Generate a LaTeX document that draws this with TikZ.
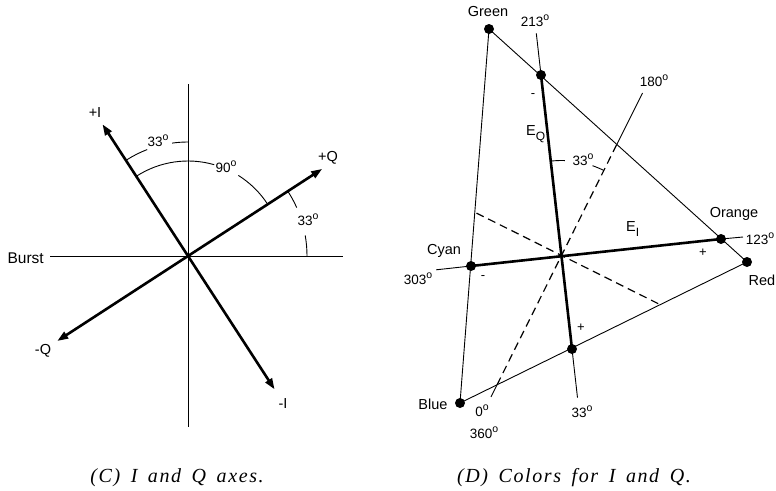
\documentclass[tikz,border=0pt]{standalone}
\usepackage{fontspec}
\setmainfont{Liberation Sans}
\newfontfamily\capfont[LetterSpace=8,WordSpace=1.6]{Liberation Serif}
\usetikzlibrary{arrows.meta}
\newcommand{\dgo}{\raisebox{0.8ex}{\fontsize{10.5}{11}\selectfont o}}
\newcommand{\subx}[1]{\raisebox{-0.6ex}{\fontsize{12}{13}\selectfont #1}}
\begin{document}
\begin{tikzpicture}[x=1pt,y=-1pt,
  thinln/.style={line width=0.9pt},
  thickln/.style={line width=2.6pt},
  arr/.style={thickln,-{Triangle[length=11pt,width=7.5pt]}},
  dsh/.style={line width=1.2pt,dash pattern=on 8pt off 5pt},
  dot/.style={circle,fill,inner sep=0pt,minimum size=10pt},
  lbl/.style={font=\fontsize{14.5}{16}\selectfont,inner sep=0pt},
  num/.style={font=\fontsize{13.5}{15}\selectfont,inner sep=0pt},
  sgn/.style={font=\fontsize{13}{14}\selectfont,inner sep=0pt},
  captxt/.style={font=\capfont\itshape\fontsize{20}{22}\selectfont,inner sep=0pt,anchor=base}]
\useasboundingbox (0,0) rectangle (776,490);
% ---------------- left diagram (C) ----------------
\coordinate (O) at (188,256);
\coordinate (vt) at (188,84);
\coordinate (vb) at (188,427);
\coordinate (hl) at (50,256);
\coordinate (hr) at (343,256);
\coordinate (pI) at (102.5,124.3);
\coordinate (mI) at (274.6,389.4);
\coordinate (pQ) at (322.2,168.9);
\coordinate (mQ) at (57.2,341);
\draw[thinln] (vt) -- (vb);
\draw[thinln] (hl) -- (hr);
\draw[arr] (O) -- (pI);
\draw[arr] (O) -- (mI);
\draw[arr] (O) -- (pQ);
\draw[arr] (O) -- (mQ);
\draw[thinln] (O) ++(90:114pt) arc[start angle=90,end angle=98,radius=114pt];
\draw[thinln] (O) ++(111:114pt) arc[start angle=111,end angle=123,radius=114pt];
\draw[thinln] (O) ++(123:95pt) arc[start angle=123,end angle=74,radius=95pt];
\draw[thinln] (O) ++(58:95pt) arc[start angle=58,end angle=33,radius=95pt];
\draw[thinln] (O) ++(33:119pt) arc[start angle=33,end angle=24,radius=119pt];
\draw[thinln] (O) ++(10:119pt) arc[start angle=10,end angle=0,radius=119pt];
\node[lbl,anchor=east,font=\fontsize{15.5}{17}\selectfont] (burst) at (44,258) {Burst};
\node[lbl] (lpI) at (95,113) {+I};
\node[lbl] (lpQ) at (328,158) {+Q};
\node[lbl] (lmQ) at (43,351) {-Q};
\node[lbl] (lmI) at (283,404) {-I};
\node[num] (a33a) at (158,141) {33\dgo};
\node[num] (a90) at (226,167) {90\dgo};
\node[num] (a33b) at (308,220) {33\dgo};
% ---------------- right diagram (D) ----------------
\coordinate (C) at (561.5,255.5);
\node[dot] (green) at (489,29) {};
\node[dot] (red) at (747,262) {};
\node[dot] (blue) at (460,403) {};
\node[dot] (orange) at (721,239) {};
\node[dot] (cyan) at (471,266) {};
\node[dot] (q213) at (541,75) {};
\node[dot] (q33) at (572,349) {};
\coordinate (e213) at (536.3,33.3);
\coordinate (e33) at (577.5,397.7);
\coordinate (e303) at (436.2,269.8);
\coordinate (e123) at (743,237);
\coordinate (x180) at (616.8,144.4);
\coordinate (e180) at (642.5,93);
\coordinate (x0) at (497.1,384.7);
\coordinate (e0) at (491,396.9);
\coordinate (pl) at (476.5,213.1);
\coordinate (pr) at (660.1,304.6);
\draw[thinln] (green.center) -- (red.center) -- (blue.center) -- cycle;
\draw[thickln] (q213.center) -- (q33.center);
\draw[thickln] (cyan.center) -- (orange.center);
\draw[thinln] (e213) -- (q213.center);
\draw[thinln] (q33.center) -- (e33);
\draw[thinln] (e303) -- (cyan.center);
\draw[thinln] (orange.center) -- (e123);
\draw[dsh] (x0) -- (C) -- (x180);
\draw[thinln] (x180) -- (e180);
\draw[thinln] (x0) -- (e0);
\draw[dsh] (pl) -- (pr);
\draw[thinln] (C) ++(96.5:95pt) arc[start angle=96.5,end angle=88,radius=95pt];
\draw[thinln] (C) ++(71:95pt) arc[start angle=71,end angle=63.5,radius=95pt];
\node[lbl] (lgreen) at (488,12) {Green};
\node[lbl] (lorange) at (734,214) {Orange};
\node[lbl] (lred) at (762,280) {Red};
\node[lbl] (lcyan) at (444,251) {Cyan};
\node[lbl] (lblue) at (433,404) {Blue};
\node[num] (l213) at (535,21) {213\dgo};
\node[num] (l180) at (654,81) {180\dgo};
\node[num] (l123) at (760,239) {123\dgo};
\node[num] (l303) at (418,279) {303\dgo};
\node[num] (l0) at (482,411) {0\dgo};
\node[num] (l360) at (484,433) {360\dgo};
\node[num] (l33c) at (582,412) {33\dgo};
\node[num] (l33d) at (583,160) {33\dgo};
\node[lbl,anchor=west] (leq) at (526,134) {E\subx{Q}};
\node[lbl,anchor=west] (lei) at (626,229) {E\subx{I}};
\node[sgn] (m1) at (533,96) {-};
\node[sgn] (m2) at (483,278) {-};
\node[sgn] (p1) at (703,253) {+};
\node[sgn] (p2) at (581,328) {+};
% ---------------- captions ----------------
\node[captxt] (capC) at (177,482) {(C) I and Q axes.};
\node[captxt] (capD) at (574,482) {(D) Colors for I and Q.};
\end{tikzpicture}
\end{document}
